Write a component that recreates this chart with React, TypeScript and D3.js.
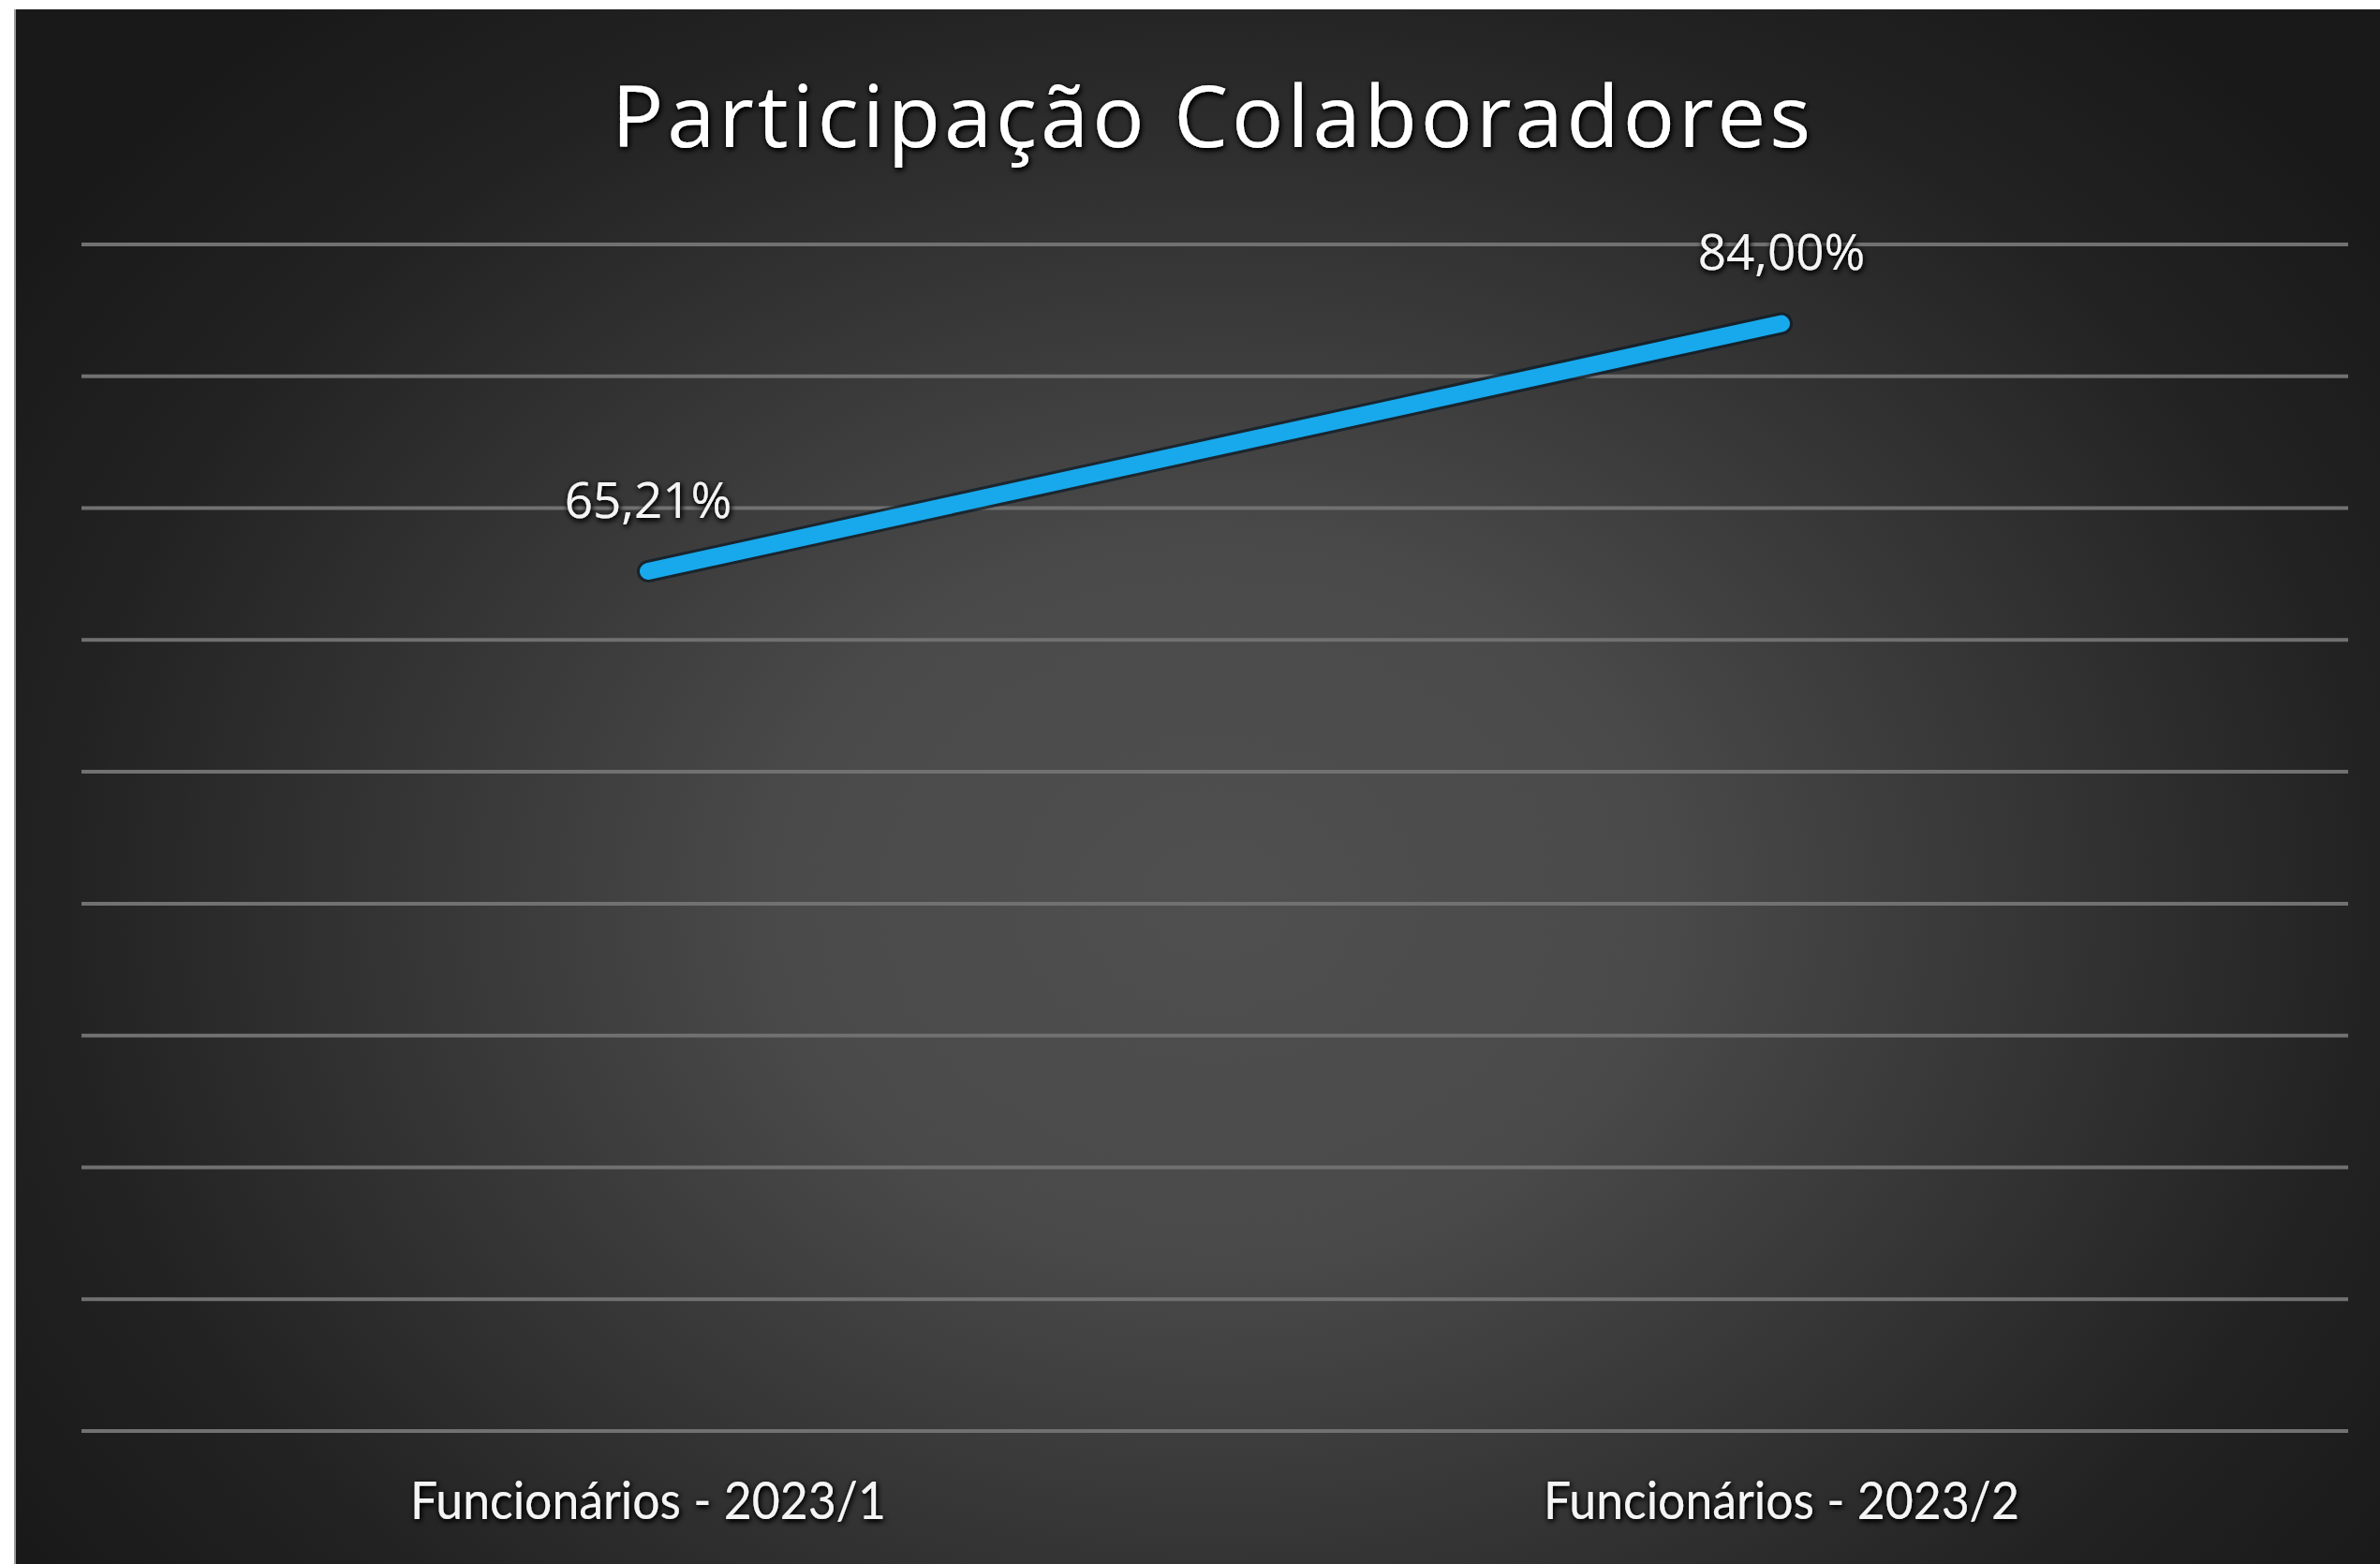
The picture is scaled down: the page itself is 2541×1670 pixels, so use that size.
import React from "react";
import * as d3 from "d3";

const categories = ["Funcionários - 2023/1", "Funcionários - 2023/2"];
const values = [65.21, 84.0];
const valueLabels = ["65,21%", "84,00%"];
const yTicks = [0, 10, 20, 30, 40, 50, 60, 70, 80, 90];
const title = "Participação Colaboradores";

const W = 2541;
const H = 1670;

export default function App() {
  const left = 87;
  const right = 2507;
  const top = 261;
  const bottom = 1528;
  const x = d3.scaleBand<string>().domain(categories).range([left, right]);
  const y = d3.scaleLinear().domain([0, 90]).range([bottom, top]);
  const pts: [number, number][] = categories.map((c, i) => [x(c)! + x.bandwidth() / 2, y(values[i])]);
  const line = d3.line()(pts) || "";

  return (
    <svg
      width={W}
      height={H}
      style={{ position: "absolute", left: 0, top: 0, display: "block" }}
    >
      <defs>
        <radialGradient id="bg" cx="1300" cy="960" r="1550" gradientUnits="userSpaceOnUse" gradientTransform="translate(1300 960) scale(1 0.8) translate(-1300 -960)">
          <stop offset="0" stopColor="#4f4f4f" />
          <stop offset="0.3" stopColor="#4a4a4a" />
          <stop offset="0.55" stopColor="#363636" />
          <stop offset="0.8" stopColor="#222222" />
          <stop offset="1" stopColor="#191919" />
        </radialGradient>
        <filter id="glow" x="-20%" y="-50%" width="140%" height="200%">
          <feGaussianBlur in="SourceAlpha" stdDeviation="3" result="b" />
          <feOffset dx="1" dy="2" result="o" />
          <feComponentTransfer in="o" result="s">
            <feFuncA type="linear" slope="1.6" />
          </feComponentTransfer>
          <feMerge>
            <feMergeNode in="s" />
            <feMergeNode in="SourceGraphic" />
          </feMerge>
        </filter>
      </defs>
      <rect x={0} y={0} width={W} height={H} fill="#ffffff" />
      <rect x={16} y={10} width={W - 16} height={H - 10} fill="url(#bg)" />
      <line x1={16} y1={10} x2={16} y2={H} stroke="#9a9a9a" strokeWidth={2} />

      {yTicks.map((t) => (
        <line
          key={t}
          x1={left}
          x2={right}
          y1={y(t)}
          y2={y(t)}
          stroke="#717171"
          strokeWidth={4}
        />
      ))}

      <path d={line} fill="none" stroke="#0b1a26" strokeWidth={24} strokeLinecap="round" opacity={0.7} />
      <path d={line} fill="none" stroke="#17a9ec" strokeWidth={18} strokeLinecap="round" />

      <g filter="url(#glow)">
        <text
          x={1293}
          y={157}
          textAnchor="middle"
          fill="#ffffff"
          fontFamily="'Open Sans', sans-serif"
          fontSize={92}
          textLength={1280}
          lengthAdjust="spacing"
        >
          {title}
        </text>
        {pts.map((p, i) => (
          <text
            key={i}
            x={p[0]}
            y={p[1] - 57}
            textAnchor="middle"
            fill="#f4f4f4"
            fontFamily="'Open Sans', sans-serif"
            fontSize={53}
          >
            {valueLabels[i]}
          </text>
        ))}
        {categories.map((c) => (
          <text
            key={c}
            x={x(c)! + x.bandwidth() / 2}
            y={1622}
            textAnchor="middle"
            fill="#f4f4f4"
            fontFamily="Lato, sans-serif"
            fontSize={57}
            textLength={508}
            lengthAdjust="spacingAndGlyphs"
          >
            {c}
          </text>
        ))}
      </g>
    </svg>
  );
}
